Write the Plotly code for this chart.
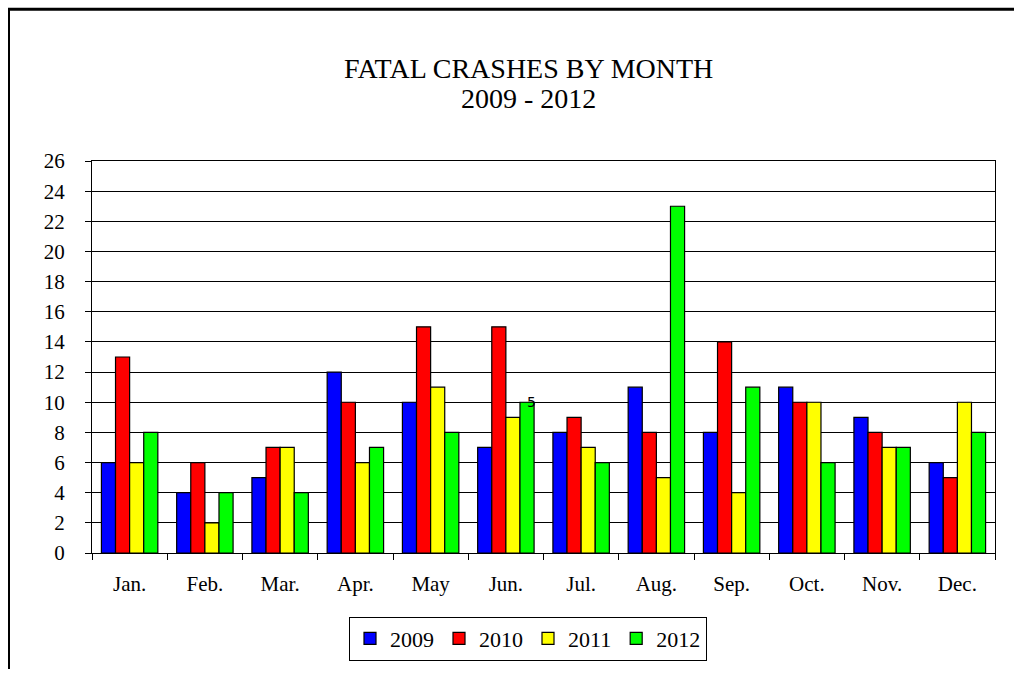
import plotly.graph_objects as go

months = ["Jan.", "Feb.", "Mar.", "Apr.", "May", "Jun.", "Jul.", "Aug.", "Sep.", "Oct.", "Nov.", "Dec."]
years = ["2009", "2010", "2011", "2012"]
v2009 = [6, 4, 5, 12, 10, 7, 8, 11, 8, 11, 9, 6]
v2010 = [13, 6, 7, 10, 15, 15, 9, 8, 14, 10, 8, 5]
v2011 = [6, 2, 7, 6, 11, 9, 7, 5, 4, 10, 7, 10]
v2012 = [8, 4, 4, 7, 8, 10, 6, 23, 11, 6, 7, 8]
colors = ["#0000FF", "#FF0000", "#FFFF00", "#00FF00"]
yticks = list(range(0, 27, 2))

W, H = 1014, 673
L, R, T, B = 92, 19, 161, 117
pw, ph = W - L - R, H - T - B

def px2x(px):
    return (px - L) / pw

def py2y(py):
    return (H - B - py) / ph

fig = go.Figure()
for name, vals, c in zip(years, [v2009, v2010, v2011, v2012], colors):
    fig.add_trace(go.Bar(x=months, y=vals, name=name, marker=dict(color=c, line=dict(color="black", width=1.2))))

serif = "Liberation Serif, Times New Roman, serif"
fig.update_layout(
    width=W, height=H,
    margin=dict(l=L, r=R, t=T, b=B, pad=0),
    paper_bgcolor="white", plot_bgcolor="white",
    barmode="group", bargap=0.25, bargroupgap=0,
    font=dict(family=serif, size=21, color="black"),
    showlegend=True,
    legend=dict(orientation="h", x=px2x(528), xanchor="center", y=py2y(620), yanchor="top",
                bordercolor="black", borderwidth=1, font=dict(size=22, family=serif),
                itemwidth=30, tracegroupgap=0),
    xaxis=dict(showgrid=False, showline=True, linecolor="black", linewidth=1, mirror=True,
               ticks="outside", tickson="boundaries", ticklen=6, tickcolor="black",
               ticklabelstandoff=12,
               tickfont=dict(size=21, family=serif)),
    yaxis=dict(range=[0, 26], tickvals=yticks, showgrid=True, gridcolor="black", gridwidth=1,
               showline=True, linecolor="black", linewidth=1, mirror=True,
               ticks="outside", ticklen=6, tickcolor="black", zeroline=False,
               ticklabelstandoff=16,
               tickfont=dict(size=21, family=serif)),
    annotations=[
        dict(text="FATAL CRASHES BY MONTH", xref="paper", yref="paper", x=px2x(528), y=py2y(68),
             showarrow=False, font=dict(size=28, family=serif), xanchor="center", yanchor="middle"),
        dict(text="2009 - 2012", xref="paper", yref="paper", x=px2x(528), y=py2y(98),
             showarrow=False, font=dict(size=28, family=serif), xanchor="center", yanchor="middle"),
        dict(text="5", xref="x", yref="y", x="Jun.", y=10, xshift=26, showarrow=False,
             font=dict(size=14, family="DejaVu Sans, sans-serif"), yanchor="middle"),
    ],
    shapes=[
        dict(type="line", xref="paper", yref="paper", x0=px2x(8), x1=px2x(1014), y0=py2y(8), y1=py2y(8),
             line=dict(color="black", width=3)),
        dict(type="line", xref="paper", yref="paper", x0=px2x(9), x1=px2x(9), y0=py2y(7), y1=py2y(673),
             line=dict(color="black", width=2)),
    ],
)

fig.write_html("out.html", config={"displayModeBar": False},
               post_script="document.body.style.margin='0';")
